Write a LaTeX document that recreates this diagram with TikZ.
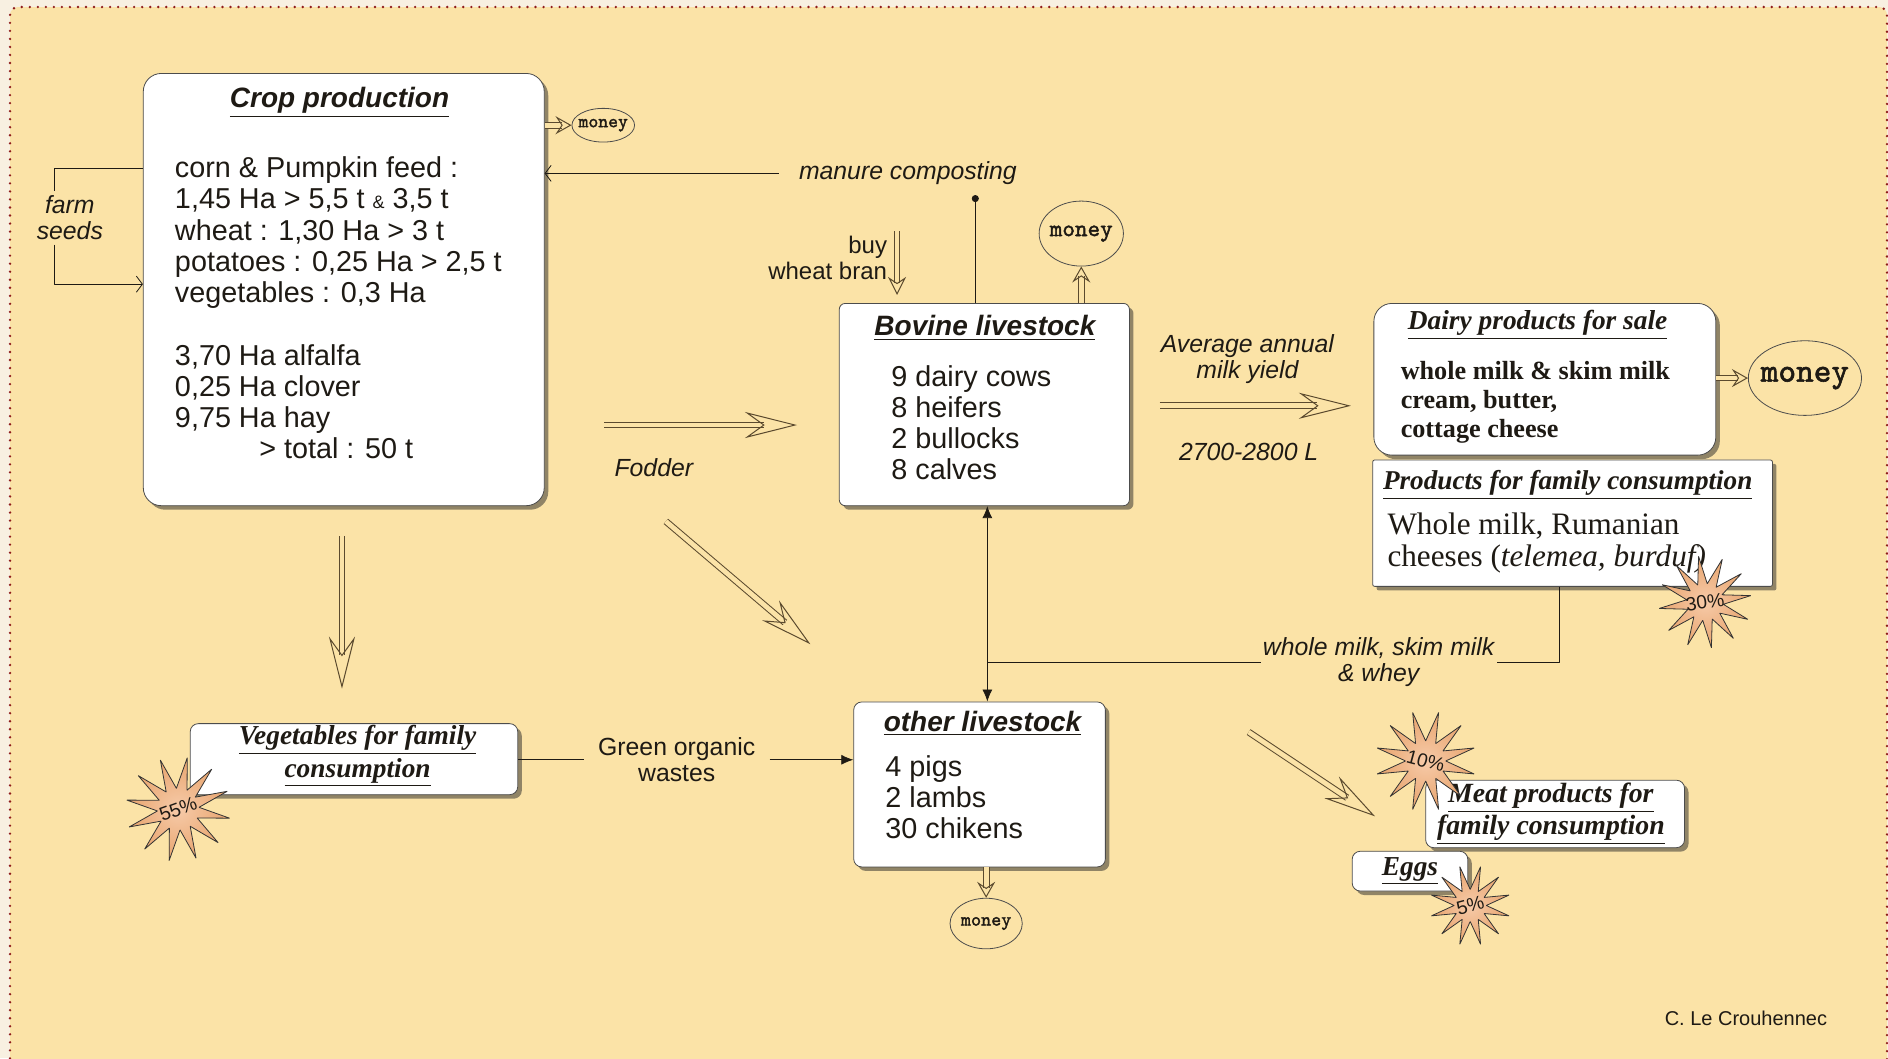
\documentclass[tikz,border=0pt]{standalone}
\usepackage{fontspec}
\setmainfont{Liberation Sans}
\newfontfamily\tms{Liberation Serif}
\newfontfamily\cour{lmmono10-regular}[Extension=.otf,AutoFakeBold=1.8]
\usetikzlibrary{arrows.meta,shapes.geometric,shadows}
\definecolor{paper}{HTML}{F8F0E1}
\definecolor{bgc}{HTML}{FBE3A7}
\definecolor{dotc}{HTML}{8E1B1B}
\definecolor{starc}{HTML}{F2AE7A}
\definecolor{ink}{HTML}{1E1A14}
\definecolor{arrc}{HTML}{5B4A2E}
\tikzset{
  box/.style={draw=black!70,fill=white,rounded corners=4bp,inner sep=0pt,
    drop shadow={shadow xshift=2bp,shadow yshift=-2bp,fill=black!85}},
  ttl/.style={inner sep=0pt,font=\fontsize{14}{16}\selectfont\bfseries\itshape},
  tms ttl/.style={inner sep=0pt,align=center,font=\tms\fontsize{13.7}{16.2}\selectfont\bfseries\itshape},
  body/.style={anchor=north west,align=left,inner sep=0pt,font=\fontsize{14.4}{15.6}\selectfont},
  lbl/.style={align=center,inner sep=0pt,font=\fontsize{12.4}{13.2}\selectfont\itshape},
  money/.style={ellipse,draw=black!70,inner sep=0pt},
  burst/.style={star,star points=12,star point ratio=2.5,draw=black!80,
    inner color=starc!65!white,outer color=starc!80!brown,
    inner sep=0pt,font=\fontsize{9.6}{10}\selectfont},
  hollow/.style={draw=arrc,line width=0.5bp,double=bgc,double distance=2.4bp,
    -{Stealth[open,length=26bp,width=13bp,inset=9bp]}},
  hollow sm/.style={hollow,-{Stealth[open,length=8bp,width=9bp,inset=3bp]}},
  chev/.style={-{Straight Barb[length=3bp,width=8bp]}},
}
\begin{document}
\begin{tikzpicture}[>={Latex[length=6bp,width=5bp]},line join=bevel,color=ink]
%%
\useasboundingbox (0bp,0bp) rectangle (940.8bp,527.4bp);
\fill [paper] (0bp,0bp) rectangle (940.8bp,527.4bp);
\draw [dotc,fill=bgc,line width=1.3bp,line cap=round,dash pattern=on 0bp off 4bp,rounded corners=4bp] (5bp,-8bp) rectangle (940.3bp,523.9bp);
%% crops
\node (crop) at (171.3bp,383.1bp) [box,minimum width=199.8bp,minimum height=215.4bp,rounded corners=9bp] {};
  \node (crop_title) at (169.2bp,476.4bp) [ttl] {\underline{Crop production}};
  \node (crop_text) at (87bp,449.4bp) [body] {corn \& Pumpkin feed :\\
    1,45 Ha > 5,5 t {\fontsize{9}{9}\selectfont\&} 3,5 t\\
    wheat : 1,30 Ha > 3 t\\
    potatoes : 0,25 Ha > 2,5 t\\
    vegetables : 0,3 Ha\\[15.6bp]
    3,70 Ha alfalfa\\
    0,25 Ha clover\\
    9,75 Ha hay\\
    \hspace*{42bp}> total : 50 t};
\node (crop_money) at (300.6bp,465bp) [money,minimum width=31.2bp,minimum height=16.8bp,font=\cour\bfseries\fontsize{9.4}{10}\selectfont] {\makebox[0pt]{money}};
\node (seeds) at (34.8bp,418.8bp) [lbl,inner sep=2bp] {farm\\seeds};
\node (manure) at (452.4bp,441bp) [lbl,inner xsep=10bp] {manure composting};
\coordinate (seeds_top) at (27bp,443.4bp);
\coordinate (seeds_bot) at (27bp,385.8bp);
%% bovine
\node (bov) at (490.5bp,325.8bp) [box,minimum width=144.6bp,minimum height=100.8bp,rounded corners=3bp] {};
  \node (bov_title) at (490.8bp,364bp) [ttl] {\underline{Bovine livestock}};
  \node (bov_text) at (444bp,345.6bp) [body] {9 dairy cows\\ 8 heifers\\ 2 bullocks\\ 8 calves};
\node (bov_money) at (538.8bp,411bp) [money,minimum width=42bp,minimum height=32.4bp,font=\cour\bfseries\fontsize{12}{13}\selectfont] {\makebox[0pt]{money}};
\node (bran) at (442.2bp,399bp) [anchor=east,align=right,inner sep=0pt,font=\fontsize{12}{13.2}\selectfont] {buy\\wheat bran};
\coordinate (bran_in) at (447bp,412.2bp);
\coordinate (compost) at (486bp,430.2bp);
\node (fodder) at (325.8bp,294.6bp) [lbl] {Fodder};
\coordinate (fodder_a) at (301.2bp,315.6bp);
\coordinate (fodder_b) at (397.2bp,315.6bp);
\coordinate (diag_a) at (331.8bp,267.6bp);
\coordinate (diag_b) at (403.8bp,206.4bp);
%% milk
\node (milk) at (621.6bp,348.6bp) [lbl] {Average annual\\milk yield};
\node (litres) at (622.2bp,302.4bp) [lbl] {2700-2800 L};
\coordinate (milk_a) at (577.8bp,325.2bp);
\coordinate (milk_b) at (673.2bp,325.2bp);
\node (dairy) at (769.8bp,338.4bp) [box,minimum width=170.4bp,minimum height=75.6bp,rounded corners=9bp] {};
  \node (dairy_title) at (766.2bp,365.4bp) [tms ttl] {\underline{Dairy products for sale}};
  \node (dairy_text) at (697.8bp,347.4bp) [body,font=\tms\bfseries\fontsize{13.1}{14.4}\selectfont] {whole milk \& skim milk\\ cream, butter,\\ cottage cheese};
\node (sale_money) at (899.4bp,339bp) [money,minimum width=56.4bp,minimum height=37.2bp,font=\cour\bfseries\fontsize{16.8}{18}\selectfont] {\makebox[0pt]{money}};
\node (prod) at (783.6bp,266.7bp) [box,minimum width=199.2bp,minimum height=63bp,rounded corners=1bp] {};
  \node (prod_title) at (781.2bp,285.6bp) [tms ttl,font=\tms\fontsize{13.6}{16}\selectfont\bfseries\itshape] {\underline{Products for family consumption}};
  \node (prod_text) at (691.2bp,271.8bp) [body,font=\tms\fontsize{15.6}{15.6}\selectfont] {Whole milk, Rumanian\\ cheeses (\textit{telemea, burduf)}};
\node (pct_30) at (849.6bp,227.4bp) [burst,minimum size=46bp,rotate=8] {\makebox[0pt]{30\%}};
\node (whey) at (687bp,197.4bp) [lbl,inner sep=1bp] {whole milk, skim milk\\\& whey};
\coordinate (prod_drop) at (777bp,197.4bp);
\coordinate (junction) at (492bp,197.4bp);
%% other
\node (oth) at (488.1bp,136.5bp) [box,minimum width=125.4bp,minimum height=82.2bp,rounded corners=4bp] {};
  \node (oth_title) at (489.6bp,167bp) [ttl] {\underline{other livestock}};
  \node (oth_text) at (441bp,151.2bp) [body] {4 pigs\\ 2 lambs\\ 30 chikens};
\node (oth_money) at (491.4bp,67.2bp) [money,minimum width=36bp,minimum height=25.2bp,font=\cour\bfseries\fontsize{9.6}{10}\selectfont] {\makebox[0pt]{money}};
\node (veg) at (176.4bp,149.1bp) [box,minimum width=163.2bp,minimum height=35.4bp,rounded corners=4bp] {};
  \node (veg_title) at (178.2bp,150.6bp) [tms ttl] {\underline{Vegetables for family}\\\underline{consumption}};
\node (pct_55) at (88.8bp,124.2bp) [burst,minimum size=52bp,rotate=20] {\makebox[0pt]{55\%}};
\node (green) at (337.2bp,148.8bp) [lbl,inner xsep=7bp,font=\fontsize{12.4}{13.2}\selectfont] {Green organic\\wastes};
\coordinate (veg_a) at (170.4bp,260.4bp);
\coordinate (veg_b) at (170.4bp,184.2bp);
\coordinate (meat_a) at (622.2bp,162.6bp);
\coordinate (meat_b) at (685.2bp,120.6bp);
\node (meat) at (774.9bp,121.8bp) [box,minimum width=129bp,minimum height=33.6bp,rounded corners=4bp] {};
  \node (meat_title) at (772.8bp,121.8bp) [tms ttl,font=\tms\fontsize{13.9}{16.2}\selectfont\bfseries\itshape] {\underline{Meat products for}\\\underline{family consumption}};
\node (pct_10) at (710.4bp,148.2bp) [burst,minimum size=50bp,rotate=-15] {\makebox[0pt]{10\%}};
\node (eggs) at (702.6bp,93.3bp) [box,minimum width=57.6bp,minimum height=19.8bp,rounded corners=4bp] {};
  \node (eggs_title) at (702.6bp,93.3bp) [tms ttl] {\underline{Eggs}};
\node (pct_5) at (732.6bp,76.2bp) [burst,minimum size=40bp,rotate=15] {\makebox[0pt]{5\%}};
\node (credit) at (870bp,19.8bp) [inner sep=0pt,font=\fontsize{10}{12}\selectfont] {C. Le Crouhennec};
%% connectors
\draw [hollow sm] (crop.east |- crop_money) -- (crop_money);
\draw [chev] (manure.west) -- (manure.west -| crop.east);
\draw (seeds_top -| crop.west) -- (seeds_top) -- (seeds_top |- seeds.north);
\draw [chev] (seeds_bot |- seeds.south) -- (seeds_bot) -- (seeds_bot -| crop.west);
\draw [-{Circle[length=3.5bp]}] (compost |- bov.north) -- (compost);
\draw [hollow sm,shorten >=4bp,-{Stealth[open,length=9bp,width=9bp,inset=3bp]}] (bran_in) -- (bran_in |- bov.north);
\draw [hollow sm] (bov.north -| bov_money) -- (bov_money);
\draw [hollow] (fodder_a) -- (fodder_b);
\draw [hollow] (diag_a) -- (diag_b);
\draw [hollow] (milk_a) -- (milk_b);
\draw [hollow sm] (dairy.east |- sale_money) -- (sale_money);
\draw (prod_drop |- prod.south) -- (prod_drop) -- (whey.east);
\draw (whey.west) -- (junction);
\draw [<->] (junction |- bov.south) -- (junction |- oth.north);
\draw [hollow sm] (oth.south -| oth_money) -- (oth_money);
\draw (veg.east |- green) -- (green.west);
\draw [->] (green.east) -- (green.east -| oth.west);
\draw [hollow] (veg_a) -- (veg_b);
\draw [hollow] (meat_a) -- (meat_b);
%
\end{tikzpicture}
\end{document}
